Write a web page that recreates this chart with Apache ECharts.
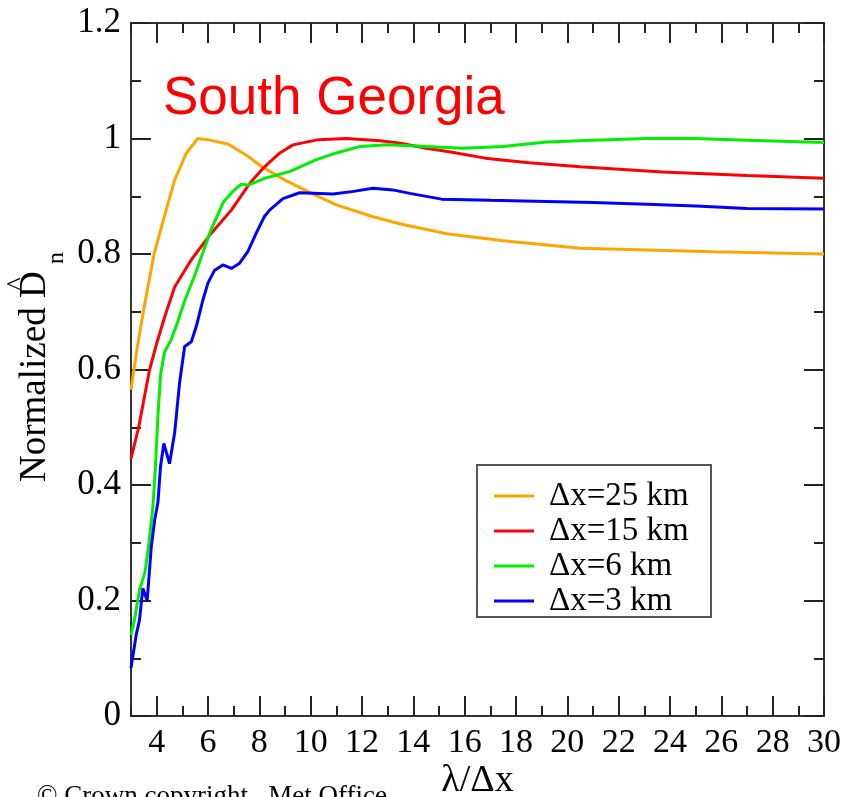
<!DOCTYPE html>
<html><head><meta charset="utf-8">
<script src="https://cdn.jsdelivr.net/npm/echarts@6/dist/echarts.min.js"></script>
<style>html,body{margin:0;padding:0;background:#fff}#c{width:848px;height:797px}</style>
</head><body><div id="c"></div>
<script>
// ---- data ----
const seriesNames = ['Δx=25 km', 'Δx=15 km', 'Δx=6 km', 'Δx=3 km'];
const seriesColors = ['#FFA500', '#FF0000', '#00EE00', '#0000FF'];

const x25 = [3.0, 3.25, 3.5, 3.9, 4.3, 4.7, 5.15, 5.6, 6.0, 6.8, 7.6, 8.1, 9.0, 9.9, 11.0, 12.4, 13.5, 15.3, 17.5, 20.5, 25.7, 30];
const y25 = [0.565, 0.64, 0.705, 0.80, 0.865, 0.928, 0.974, 1.0, 0.998, 0.99, 0.968, 0.951, 0.928, 0.908, 0.885, 0.865, 0.852, 0.835, 0.823, 0.81, 0.804, 0.80];

const x15 = [3.0, 3.3, 3.72, 4.0, 4.31, 4.7, 5.35, 6.13, 6.91, 7.62, 8.2, 8.8, 9.31, 10.3, 11.4, 12.7, 13.5, 14.5, 15.4, 16.8, 18.5, 20.5, 23.7, 27, 30];
const y15 = [0.446, 0.50, 0.599, 0.645, 0.691, 0.743, 0.79, 0.836, 0.876, 0.922, 0.951, 0.975, 0.989, 0.998, 1.0, 0.996, 0.992, 0.983, 0.977, 0.966, 0.958, 0.951, 0.942, 0.936, 0.931];

const x6 = [3.0, 3.15, 3.33, 3.55, 3.7, 3.85, 3.95, 4.05, 4.15, 4.3, 4.55, 4.8, 5.1, 5.5, 6.1, 6.6, 7.0, 7.3, 7.55, 8.2, 9.2, 10.2, 11.0, 11.9, 13.0, 14.5, 15.9, 17.5, 19.2, 21, 23.1, 25, 27, 30];
const y6 = [0.14, 0.17, 0.218, 0.25, 0.30, 0.36, 0.43, 0.52, 0.59, 0.63, 0.65, 0.68, 0.72, 0.765, 0.84, 0.89, 0.91, 0.921, 0.919, 0.931, 0.943, 0.963, 0.975, 0.986, 0.989, 0.986, 0.983, 0.986, 0.994, 0.997, 1.0, 1.0, 0.997, 0.993];

const x3 = [3.0, 3.2, 3.33, 3.46, 3.63, 3.79, 3.92, 4.05, 4.15, 4.28, 4.5, 4.7, 4.89, 5.09, 5.35, 5.54, 5.8, 6.0, 6.26, 6.58, 6.91, 7.23, 7.55, 7.88, 8.2, 8.4, 8.92, 9.57, 10.87, 11.6, 12.43, 13.2, 13.86, 15.1, 17, 19.2, 21, 23.1, 25, 27, 30];
const y3 = [0.083, 0.14, 0.166, 0.221, 0.20, 0.293, 0.339, 0.37, 0.432, 0.472, 0.437, 0.49, 0.576, 0.64, 0.648, 0.674, 0.72, 0.75, 0.772, 0.781, 0.775, 0.784, 0.804, 0.836, 0.865, 0.876, 0.896, 0.906, 0.904, 0.908, 0.914, 0.911, 0.905, 0.895, 0.893, 0.891, 0.889, 0.886, 0.883, 0.879, 0.878];

const xTickLabels = [4, 6, 8, 10, 12, 14, 16, 18, 20, 22, 24, 26, 28, 30];
const yTickLabels = [0, 0.2, 0.4, 0.6, 0.8, 1, 1.2];

// ---- chart ----
const serif = '"Liberation Serif", "Times New Roman", serif';
const axisColor = '#333';
const tickStyle = { color: '#222', width: 2 };

function xAxisDef(pos, major, labels) {
  const a = {
    type: 'value', min: 3, max: 30, position: pos,
    axisLine: { show: !major, onZero: false, lineStyle: { color: axisColor, width: 2 } },
    splitLine: { show: false },
    axisTick: { show: true, inside: true, length: major ? 20 : 10, lineStyle: tickStyle },
    axisLabel: { show: false }
  };
  if (major) {
    a.axisTick.customValues = xTickLabels;
    a.axisLabel = labels ? { show: true, customValues: xTickLabels, fontFamily: serif, fontSize: 34, color: '#000', margin: 10 } : { show: false, customValues: xTickLabels };
  } else {
    a.interval = 1;
  }
  return a;
}
function yAxisDef(pos, major, labels) {
  return {
    type: 'value', min: 0, max: 1.2, interval: major ? 0.2 : 0.1, position: pos,
    axisLine: { show: !major, onZero: false, lineStyle: { color: axisColor, width: 2 } },
    splitLine: { show: false },
    axisTick: { show: true, inside: true, length: major ? 20 : 10, lineStyle: tickStyle },
    axisLabel: labels ? { show: true, fontFamily: serif, fontSize: 35, color: '#000', margin: 10,
      formatter: v => String(+(+v).toFixed(1)) } : { show: false }
  };
}

const xs = [x25, x15, x6, x3];
const ys = [y25, y15, y6, y3];
const series = seriesNames.map((n, i) => ({
  name: n, type: 'line', xAxisIndex: 0, yAxisIndex: 0,
  data: xs[i].map((x, j) => [x, ys[i][j]]),
  symbol: 'none', smooth: false,
  lineStyle: { color: seriesColors[i], width: 3 },
  itemStyle: { color: seriesColors[i] },
  z: 3
}));

const chart = echarts.init(document.getElementById('c'), null, { renderer: 'canvas' });
chart.setOption({
  animation: false,
  backgroundColor: '#fff',
  grid: { left: 131, right: 24, top: 23, bottom: 81, containLabel: false, outerBoundsMode: 'none' },
  xAxis: [
    Object.assign(xAxisDef('bottom', false, false), {
      name: 'λ/Δx', nameLocation: 'middle', nameGap: 46,
      nameTextStyle: { fontFamily: serif, fontSize: 38, color: '#000' }
    }),
    xAxisDef('bottom', true, true),
    xAxisDef('top', false, false),
    xAxisDef('top', true, false)
  ],
  yAxis: [
    yAxisDef('left', false, false),
    yAxisDef('left', true, true),
    yAxisDef('right', false, false),
    yAxisDef('right', true, false)
  ],
  legend: {
    orient: 'vertical', left: 489, top: 473.5, itemGap: 0,
    itemWidth: 40, itemHeight: 3, icon: 'rect',
    textStyle: { fontFamily: serif, fontSize: 33, color: '#000', lineHeight: 35, padding: [0, 0, 0, 10] },
    data: seriesNames, z: 10
  },
  graphic: [
    { type: 'rect', z: 5, shape: { x: 477, y: 465, width: 234, height: 152 },
      style: { fill: '#fff', stroke: '#555', lineWidth: 2 } },
    { type: 'text', left: 163, top: 73, z: 6,
      style: { text: 'South Georgia', fill: '#FF0000', font: '53px "Liberation Sans", Arial, sans-serif' } },
    { type: 'text', x: 35, y: 482, rotation: Math.PI / 2, z: 6,
      style: { text: 'Normalized D', fill: '#000', font: '37px ' + serif, align: 'left', verticalAlign: 'middle' } },
    { type: 'text', x: 18, y: 284, rotation: Math.PI / 2, z: 6,
      style: { text: '^', fill: '#000', font: '28px ' + serif, align: 'center', verticalAlign: 'middle' } },
    { type: 'text', x: 57, y: 264, rotation: Math.PI / 2, z: 6,
      style: { text: 'n', fill: '#000', font: '24px ' + serif, align: 'left', verticalAlign: 'middle' } },
    { type: 'text', x: 37, y: 783, z: 6,
      style: { text: '© Crown copyright   Met Office', fill: '#000', font: '27px ' + serif, align: 'left', verticalAlign: 'top' } }
  ],
  series: series
});
</script>
</body></html>
